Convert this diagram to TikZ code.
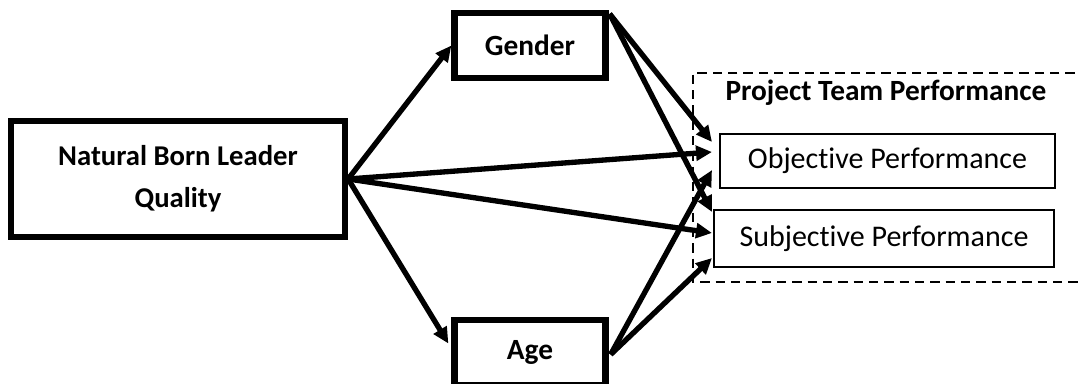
\documentclass[tikz,border=0pt]{standalone}
\usepackage{fontspec}
\setmainfont{Carlito}[Ligatures=NoCommon]
\usetikzlibrary{arrows.meta,calc}
\begin{document}
\begin{tikzpicture}[x=0.75pt,y=-0.75pt,
  thickbox/.style={draw=black,line width=4.7pt,rectangle,inner sep=0pt,font=\bfseries\fontsize{22}{31.5}\selectfont,align=center},
  thinbox/.style={draw=black,line width=1.5pt,rectangle,inner sep=0pt,font=\fontsize{22.5}{26}\selectfont},
  conn/.style={line width=4pt,-{Triangle[length=12pt,width=11pt]}},
  grp/.style={draw=black,line width=1.5pt,dash pattern=on 7pt off 4.5pt}]
\useasboundingbox (0,0) rectangle (1079,383);
\fill[white] (0,0) rectangle (1079,383);
\node[thickbox,minimum width=250.5pt,minimum height=87pt,font=\bfseries\fontsize{21.5}{31.5}\selectfont] (nbl) at (178,179) {Natural Born Leader\\Quality};
\node[thickbox,minimum width=113.25pt,minimum height=48.75pt] (gender) at (530,45.5) {Gender};
\node[thickbox,minimum width=113.25pt,minimum height=48.75pt] (age) at (530,352.5) {Age};
\node[thinbox,minimum width=251.25pt,minimum height=40.5pt] (obj) at (887.5,161) {Objective Performance};
\node[thinbox,minimum width=255pt,minimum height=42.75pt] (subj) at (884,238.5) {Subjective Performance};
\node[font=\bfseries\fontsize{22}{26}\selectfont,inner sep=0pt] (ptp) at (886,93) {Project Team Performance};
\draw[grp] (1090,73) -- (693,73) -- (693,282) -- (1090,282);
\draw[conn] (nbl.east) -- (gender.west);
\draw[conn] (nbl.east) -- ($(age.west)+(-3,-9)$);
\draw[conn] (nbl.east) -- ($(obj.west)+(-7,-9)$);
\draw[conn] (nbl.east) -- ($(subj.west)+(-1,-5.5)$);
\draw[conn] ($(gender.north east)+(1,4)$) -- ($(obj.west)+(-7,-19)$);
\draw[conn] ($(gender.north east)+(1,4)$) -- ($(subj.west)+(-1,-26.5)$);
\draw[conn] ($(age.east)+(2,2)$) -- ($(obj.west)+(-7,9)$);
\draw[conn] ($(age.east)+(2,2)$) -- ($(subj.west)+(-1,19.5)$);
\end{tikzpicture}
\end{document}
